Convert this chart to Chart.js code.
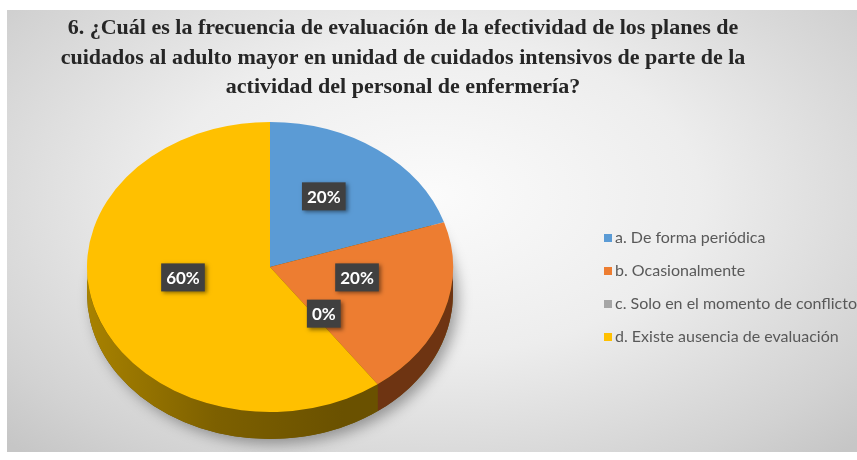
<!DOCTYPE html>
<html>
<head>
<meta charset="utf-8">
<script src="https://cdn.jsdelivr.net/npm/chart.js@4/dist/chart.umd.min.js"></script>
<style>
  html, body { margin: 0; padding: 0; background: #fff; width: 857px; height: 460px; overflow: hidden; }
  #box {
    position: absolute; left: 7px; top: 10px; width: 850px; height: 442px;
    background: radial-gradient(ellipse 70% 80% at 50% 42%, #fbfbfb 0%, #ededed 45%, #d2d2d2 85%, #c6c6c6 100%);
  }
  canvas { display: block; }
</style>
</head>
<body>
<div id="box"><canvas id="chart"></canvas></div>
<script>
// Chart data
const titleLines = [
  '6. ¿Cuál es la frecuencia de evaluación de la efectividad de los planes de',
  'cuidados al adulto mayor en unidad de cuidados intensivos de parte de la',
  'actividad del personal de enfermería?'
];
const labels = [
  'a. De forma periódica',
  'b. Ocasionalmente',
  'c. Solo en el momento de conflictos',
  'd. Existe ausencia de evaluación'
];
const values = [20, 20, 0, 60];
const colors = ['#5B9BD5', '#ED7D31', '#A5A5A5', '#FFC000'];
const sideColors = ['#2f5f8c', '#6e3412', '#5a5a5a', '#7a5c00'];

// ellipse used for the tilted pie (canvas px)
const pie = { cx: 263, cy: 257, rx: 183, ry: 145, depth: 27 };

function sideFill(ctx, i) {
  if (i !== 3) return sideColors[i];
  const g = ctx.createLinearGradient(pie.cx - pie.rx, 0, pie.cx + pie.rx, 0);
  g.addColorStop(0, '#a88200');
  g.addColorStop(0.35, '#7d6000');
  g.addColorStop(0.7, '#6a5100');
  g.addColorStop(1, '#6a5100');
  return g;
}

// squash the pie into an ellipse and give it a side wall
const pie3d = {
  id: 'pie3d',
  beforeDatasetsDraw(chart) {
    const ctx = chart.ctx;
    const arcs = chart.getDatasetMeta(0).data;
    const { cx, cy, rx, ry, depth } = pie;

    // shadow under the pie
    ctx.save();
    ctx.shadowColor = 'rgba(0,0,0,0.35)';
    ctx.shadowBlur = 14;
    ctx.shadowOffsetX = 5;
    ctx.shadowOffsetY = 5;
    ctx.fillStyle = '#6a5100';
    ctx.beginPath();
    ctx.ellipse(cx, cy + depth, rx, ry, 0, 0, Math.PI * 2);
    ctx.fill();
    ctx.restore();

    // side walls for the front half
    arcs.forEach((arc, i) => {
      const s = Math.max(arc.startAngle, 0);
      const e = Math.min(arc.endAngle, Math.PI);
      if (e <= s) return;
      ctx.beginPath();
      ctx.ellipse(cx, cy, rx, ry, 0, s, e);
      ctx.ellipse(cx, cy + depth, rx, ry, 0, e, s, true);
      ctx.closePath();
      ctx.fillStyle = sideFill(ctx, i);
      ctx.fill();
    });

    const a = arcs[0];
    ctx.save();
    ctx.translate(cx, cy);
    ctx.scale(rx / a.outerRadius, ry / a.outerRadius);
    ctx.translate(-a.x, -a.y);
  },
  afterDatasetsDraw(chart) {
    const ctx = chart.ctx;
    ctx.restore();

    // data labels
    const arcs = chart.getDatasetMeta(0).data;
    const total = values.reduce((p, v) => p + v, 0);
    ctx.save();
    ctx.font = 'bold 17px Lato';
    ctx.textAlign = 'center';
    ctx.textBaseline = 'middle';
    arcs.forEach((arc, i) => {
      const mid = (arc.startAngle + arc.endAngle) / 2;
      const x = pie.cx + 0.5 * pie.rx * Math.cos(mid);
      const y = pie.cy + 0.5 * pie.ry * Math.sin(mid) - 12;
      const txt = Math.round(values[i] / total * 100) + '%';
      const w = ctx.measureText(txt).width + 10;
      const h = 28;
      ctx.shadowColor = 'rgba(0,0,0,0.45)';
      ctx.shadowBlur = 4;
      ctx.shadowOffsetX = 2;
      ctx.shadowOffsetY = 2;
      ctx.fillStyle = '#404040';
      ctx.fillRect(x - w / 2, y - h / 2, w, h);
      ctx.shadowColor = 'transparent';
      ctx.fillStyle = '#ffffff';
      ctx.fillText(txt, x, y + 1);
    });
    ctx.restore();
  },
  afterDraw(chart) {
    // legend on the right
    const ctx = chart.ctx;
    ctx.save();
    ctx.font = '16px Lato';
    ctx.textBaseline = 'middle';
    labels.forEach((lab, i) => {
      const y = 228 + i * 33;
      ctx.fillStyle = colors[i];
      ctx.fillRect(597, y - 4, 8, 8);
      ctx.fillStyle = '#595959';
      ctx.fillText(lab, 608, y);
    });
    ctx.restore();
  }
};

new Chart(document.getElementById('chart'), {
  type: 'pie',
  data: {
    labels: labels,
    datasets: [{
      data: values,
      backgroundColor: colors,
      borderWidth: 0,
      clip: false
    }]
  },
  options: {
    responsive: true,
    maintainAspectRatio: false,
    animation: false,
    layout: { padding: { left: 0, right: 58, top: 0, bottom: 10 } },
    plugins: {
      legend: { display: false },
      tooltip: { enabled: false },
      title: {
        display: true,
        text: titleLines,
        color: '#262626',
        font: { family: 'Liberation Serif', size: 22, weight: 'bold', lineHeight: 1.36 },
        padding: { top: 3, bottom: 0 }
      }
    }
  },
  plugins: [pie3d]
});
</script>
</body>
</html>
